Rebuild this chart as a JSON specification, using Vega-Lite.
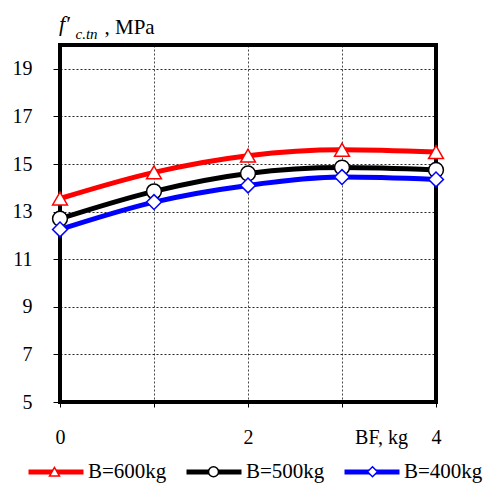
{
  "$schema": "https://vega.github.io/schema/vega-lite/v6.json",
  "width": 376,
  "height": 357,
  "autosize": {"type": "none"},
  "padding": {"left": 60, "top": 45, "right": 51, "bottom": 82},
  "background": "white",
  "config": {
    "view": {"stroke": "black", "strokeWidth": 4},
    "font": "Liberation Serif",
    "axis": {
      "labelFont": "Liberation Serif",
      "titleFont": "Liberation Serif",
      "labelColor": "black",
      "titleColor": "black",
      "tickColor": "black",
      "gridColor": "black",
      "gridDash": [2, 2],
      "gridWidth": 1,
      "gridOpacity": 0.85,
      "domain": false,
      "labelFontSize": 20,
      "titleFontSize": 20,
      "titleFontWeight": "normal"
    },
    "legend": {
      "labelFont": "Liberation Serif",
      "labelFontSize": 21,
      "padding": 0
    }
  },
  "title": {
    "text": "f′",
    "anchor": "start",
    "frame": "group",
    "font": "Liberation Serif",
    "fontStyle": "italic",
    "fontWeight": "normal",
    "fontSize": 22,
    "color": "black",
    "dx": -1,
    "dy": 20,
    "offset": 0
  },
  "data": {
    "values": [
      {"B": "B=600kg", "BF": 0, "f": 13.55},
      {"B": "B=600kg", "BF": 1, "f": 14.65},
      {"B": "B=600kg", "BF": 2, "f": 15.35},
      {"B": "B=600kg", "BF": 3, "f": 15.6},
      {"B": "B=600kg", "BF": 4, "f": 15.5},
      {"B": "B=500kg", "BF": 0, "f": 12.7},
      {"B": "B=500kg", "BF": 1, "f": 13.85},
      {"B": "B=500kg", "BF": 2, "f": 14.6},
      {"B": "B=500kg", "BF": 3, "f": 14.85},
      {"B": "B=500kg", "BF": 4, "f": 14.75},
      {"B": "B=400kg", "BF": 0, "f": 12.25},
      {"B": "B=400kg", "BF": 1, "f": 13.4},
      {"B": "B=400kg", "BF": 2, "f": 14.1},
      {"B": "B=400kg", "BF": 3, "f": 14.45},
      {"B": "B=400kg", "BF": 4, "f": 14.35}
    ]
  },
  "encoding": {
    "x": {
      "field": "BF",
      "type": "quantitative",
      "scale": {"domain": [0, 4], "nice": false},
      "axis": {
        "values": [0, 1, 2, 3, 3.415, 4],
        "labelExpr": "datum.value == 3.415 ? 'BF, kg' : (datum.value % 2 == 0 ? '' + datum.value : '')",
        "labelOverlap": false,
        "labelBound": false,
        "labelFlush": false,
        "labelPadding": 20,
        "tickSize": 5,
        "tickOpacity": {"condition": {"test": "datum.value == 3.415", "value": 0}, "value": 1},
        "gridOpacity": {"condition": {"test": "datum.value == 3.415", "value": 0}, "value": 0.85},
        "grid": true,
        "title": ", MPa",
        "titleX": 44,
        "titleY": -369,
        "titleAlign": "left",
        "titleBaseline": "alphabetic",
        "titleFontSize": 21
      }
    },
    "y": {
      "field": "f",
      "type": "quantitative",
      "scale": {"domain": [5, 20], "nice": false, "zero": false},
      "axis": {
        "values": [5, 7, 9, 11, 13, 15, 17, 19],
        "title": "c.tn",
        "titleAngle": 0,
        "titleX": 15,
        "titleY": -7,
        "titleAlign": "left",
        "titleBaseline": "alphabetic",
        "titleFontSize": 15,
        "titleFontStyle": "italic",
        "labelPadding": 21,
        "tickSize": 7,
        "grid": true
      }
    }
  },
  "layer": [
    {
      "mark": {"type": "line", "strokeWidth": 5, "interpolate": "monotone"},
      "encoding": {
        "stroke": {
          "field": "B",
          "type": "nominal",
          "scale": {"domain": ["B=600kg", "B=500kg", "B=400kg"], "range": ["#ff0000", "#000000", "#0000ff"]},
          "legend": {
            "orient": "none",
            "legendX": -34,
            "legendY": 397,
            "direction": "horizontal",
            "title": null,
            "symbolType": "stroke",
            "symbolSize": 3025,
            "symbolStrokeWidth": 5,
            "labelColor": "black",
            "labelOffset": 2,
            "columnPadding": 9
          }
        }
      }
    },
    {
      "mark": {"type": "point", "filled": false, "fill": "white", "fillOpacity": 1, "strokeWidth": 1.5, "size": 220, "opacity": 1},
      "encoding": {
        "color": {
          "field": "B",
          "type": "nominal",
          "sort": ["B=600kg", "B=500kg", "B=400kg"],
          "scale": {"range": ["#ff0000", "#000000", "#0000ff"]},
          "legend": {
            "orient": "none",
            "legendX": -16,
            "legendY": 416,
            "direction": "horizontal",
            "title": null,
            "symbolType": {"expr": "datum.value == 'B=600kg' ? 'triangle-up' : datum.value == 'B=500kg' ? 'circle' : 'diamond'"},
            "symbolSize": 100,
            "symbolStrokeWidth": 1.5,
            "symbolFillColor": "white",
            "labelExpr": "''",
            "labelOffset": 0,
            "columnPadding": 138
          }
        },
        "shape": {
          "field": "B",
          "type": "nominal",
          "sort": ["B=600kg", "B=500kg", "B=400kg"],
          "scale": {"range": ["triangle-up", "circle", "diamond"]},
          "legend": null
        }
      }
    }
  ]
}
